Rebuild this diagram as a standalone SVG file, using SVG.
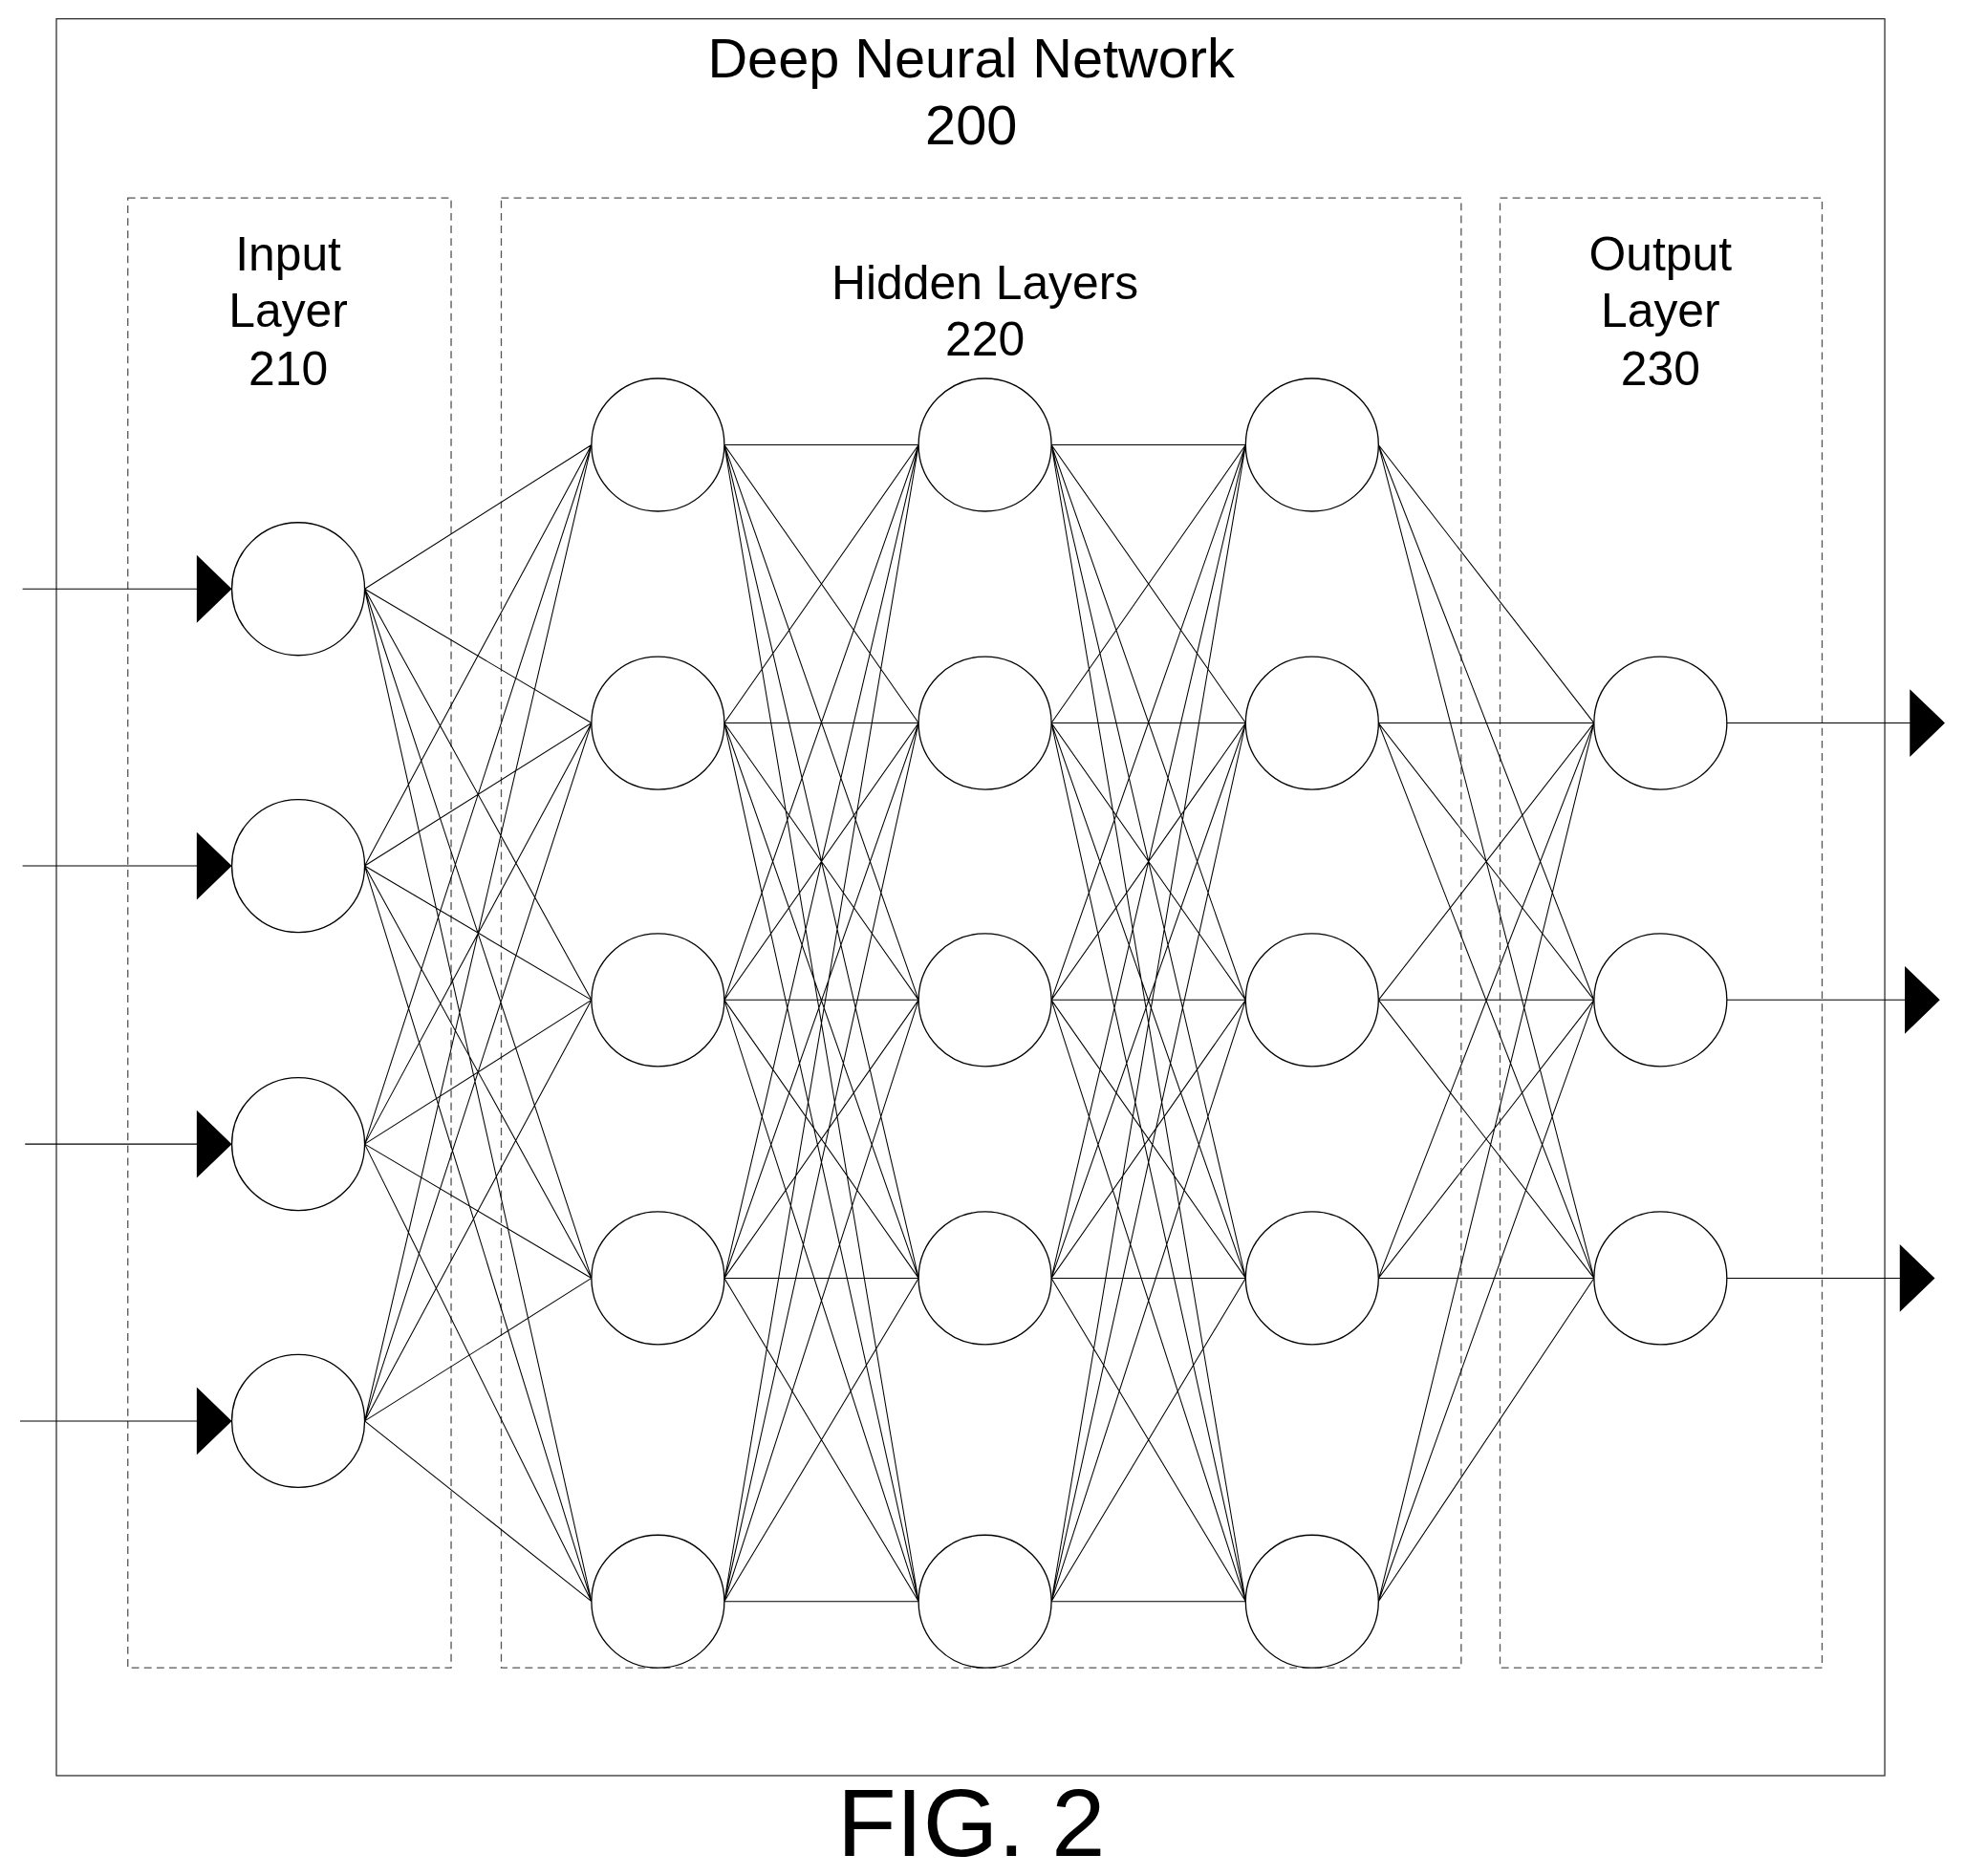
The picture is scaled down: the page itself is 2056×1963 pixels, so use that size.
<svg xmlns="http://www.w3.org/2000/svg" width="2056" height="1963" viewBox="0 0 2056 1963">
<style>
text{font-family:"Liberation Sans",Arial,sans-serif;fill:#000;text-anchor:middle}
.lbl{font-size:38px}
.box{fill:none;stroke:#555;stroke-width:1;stroke-dasharray:6,4}
.n{fill:#fff;stroke:#000;stroke-width:1}
.e{fill:none;stroke:#000;stroke-width:0.8}
</style>
<rect width="2056" height="1963" fill="#fff"/>
<g transform="scale(1.3112)">
<rect id="outer" x="45" y="15" width="1459" height="1402" fill="none" stroke="#333" stroke-width="1"/>
<g id="title"><text x="775" y="62" style="font-size:44px">Deep Neural Network</text><text x="775" y="115" style="font-size:44px">200</text></g>
<g id="input-layer"><rect class="box" x="102" y="158" width="258" height="1173"/>
<text class="lbl" x="230" y="216">Input</text><text class="lbl" x="230" y="261">Layer</text><text class="lbl" x="230" y="307">210</text></g>
<g id="hidden-layers"><rect class="box" x="400" y="158" width="766" height="1173"/>
<text class="lbl" x="786" y="239">Hidden Layers</text><text class="lbl" x="786" y="284">220</text></g>
<g id="output-layer"><rect class="box" x="1197" y="158" width="257" height="1173"/>
<text class="lbl" x="1325" y="216">Output</text><text class="lbl" x="1325" y="261">Layer</text><text class="lbl" x="1325" y="307">230</text></g>
<g id="connectors">
<path class="e" d="M291 470L472 355M291 470L472 577M291 470L472 798M291 470L472 1020M291 470L472 1278
M291 691L472 355M291 691L472 577M291 691L472 798M291 691L472 1020M291 691L472 1278
M291 913L472 355M291 913L472 577M291 913L472 798M291 913L472 1020M291 913L472 1278
M291 1134L472 355M291 1134L472 577M291 1134L472 798M291 1134L472 1020M291 1134L472 1278"/>
<path class="e" d="M578 355L733 355M578 355L733 577M578 355L733 798M578 355L733 1020M578 355L733 1278
M578 577L733 355M578 577L733 577M578 577L733 798M578 577L733 1020M578 577L733 1278
M578 798L733 355M578 798L733 577M578 798L733 798M578 798L733 1020M578 798L733 1278
M578 1020L733 355M578 1020L733 577M578 1020L733 798M578 1020L733 1020M578 1020L733 1278
M578 1278L733 355M578 1278L733 577M578 1278L733 798M578 1278L733 1020M578 1278L733 1278"/>
<path class="e" d="M839 355L994 355M839 355L994 577M839 355L994 798M839 355L994 1020M839 355L994 1278
M839 577L994 355M839 577L994 577M839 577L994 798M839 577L994 1020M839 577L994 1278
M839 798L994 355M839 798L994 577M839 798L994 798M839 798L994 1020M839 798L994 1278
M839 1020L994 355M839 1020L994 577M839 1020L994 798M839 1020L994 1020M839 1020L994 1278
M839 1278L994 355M839 1278L994 577M839 1278L994 798M839 1278L994 1020M839 1278L994 1278"/>
<path class="e" d="M1100 355L1272 577M1100 355L1272 798M1100 355L1272 1020
M1100 577L1272 577M1100 577L1272 798M1100 577L1272 1020
M1100 798L1272 577M1100 798L1272 798M1100 798L1272 1020
M1100 1020L1272 577M1100 1020L1272 798M1100 1020L1272 1020
M1100 1278L1272 577M1100 1278L1272 798M1100 1278L1272 1020"/>
<path class="e" d="M18 470H160M18 691H160M20 913H160M16 1134H160M1378 577H1526M1378 798H1522M1378 1020H1518"/>
<path d="M157 443L185 470L157 497ZM157 664L185 691L157 718ZM157 886L185 913L157 940ZM157 1107L185 1134L157 1161Z
M1524 550L1552 577L1524 604ZM1520 771L1548 798L1520 825ZM1516 993L1544 1020L1516 1047Z" fill="#000"/>
</g>
<g id="nodes-input"><circle class="n" cx="238" cy="470" r="53"/><circle class="n" cx="238" cy="691" r="53"/><circle class="n" cx="238" cy="913" r="53"/><circle class="n" cx="238" cy="1134" r="53"/></g>
<g id="nodes-hidden1"><circle class="n" cx="525" cy="355" r="53"/><circle class="n" cx="525" cy="577" r="53"/><circle class="n" cx="525" cy="798" r="53"/><circle class="n" cx="525" cy="1020" r="53"/><circle class="n" cx="525" cy="1278" r="53"/></g>
<g id="nodes-hidden2"><circle class="n" cx="786" cy="355" r="53"/><circle class="n" cx="786" cy="577" r="53"/><circle class="n" cx="786" cy="798" r="53"/><circle class="n" cx="786" cy="1020" r="53"/><circle class="n" cx="786" cy="1278" r="53"/></g>
<g id="nodes-hidden3"><circle class="n" cx="1047" cy="355" r="53"/><circle class="n" cx="1047" cy="577" r="53"/><circle class="n" cx="1047" cy="798" r="53"/><circle class="n" cx="1047" cy="1020" r="53"/><circle class="n" cx="1047" cy="1278" r="53"/></g>
<g id="nodes-output"><circle class="n" cx="1325" cy="577" r="53"/><circle class="n" cx="1325" cy="798" r="53"/><circle class="n" cx="1325" cy="1020" r="53"/></g>
<text id="fig" x="775" y="1481" style="font-size:77px">FIG. 2</text>
</g>
</svg>
